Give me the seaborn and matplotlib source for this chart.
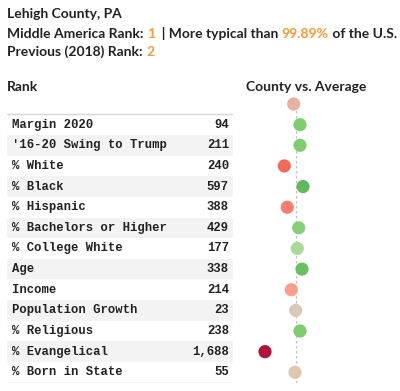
import matplotlib
matplotlib.use("Agg")
from matplotlib import pyplot as plt
import numpy as np
import pandas as pd
import seaborn as sns

# rows of the table (first row is the header dot with no label)
labels = ["", "Margin 2020", "'16-20 Swing to Trump", "% White", "% Black", "% Hispanic",
          "% Bachelors or Higher", "% College White", "Age", "Income",
          "Population Growth", "% Religious", "% Evangelical", "% Born in State"]
ranks = ["", "94", "211", "240", "597", "388", "429", "177", "338", "214", "23", "238", "1,688", "55"]
# county vs. average (relative deviation)
deviation = [-0.2, 0.43, 0.43, -1.14, 0.73, -0.84, 0.3, 0.16, 0.63, -0.44, 0.0, 0.43, -3.07, -0.07]
dot_colors = ["#e8b2a2", "#80cc71", "#80cc71", "#f06a59", "#62b95c", "#f47f6f", "#86d077",
              "#a8d99a", "#69c061", "#fa9e8e", "#d5ccb8", "#7ecc6f", "#b01238", "#e0c6b1"]

county = "Lehigh County, PA"
ma_rank = "1"
typical_pct = "99.89%"
prev_rank = "2"

orange = "#f29a38"
dark = "#222222"

sns.set_theme(style="white")
plt.rcParams['font.family'] = ['Lato', 'DejaVu Sans']

W, H = 400, 391
fig = plt.figure(figsize=(W / 100, H / 100), dpi=100)

def px(x0, y0, x1, y1):
    return [x0 / W, 1 - y1 / H, (x1 - x0) / W, (y1 - y0) / H]

df = pd.DataFrame({"label": labels, "rank": ranks, "dev": deviation, "row": range(len(labels))})
n = len(df)
top, bottom = 93.7, 382.6

# --- table ---
tab = fig.add_axes(px(7, top, 233, bottom))
tab.set_xlim(0, 1)
tab.set_ylim(n - 0.5, -0.5)
tab.axis("off")
for i in range(2, n, 2):
    tab.axhspan(i - 0.5, i + 0.5, color="#f3f3f3", lw=0)
tab.axhline(0.5, color="#d6d6d6", lw=1)
tab.axhline(n - 0.5, color="#d6d6d6", lw=1)
for _, r in df.iterrows():
    if r["label"] == "":
        continue
    tab.text(0.022, r["row"], r["label"], va="center", ha="left", family="Liberation Mono",
             weight="bold", fontsize=8.8, color=dark)
    tab.text(0.982, r["row"], r["rank"], va="center", ha="right", family="Liberation Mono",
             weight="bold", fontsize=8.8, color=dark)

# --- dot plot ---
dot = fig.add_axes(px(240, top, 360, bottom))
dot.axvline(0, ymin=0.0, ymax=0.98, color="#c0c0c0", lw=0.9, ls=(0, (2, 2)))
sns.scatterplot(data=df, x="dev", y="row", hue="label",
                palette=dict(zip(labels, dot_colors)), s=90, linewidth=0,
                legend=False, ax=dot, zorder=3)
dot.set_xlim(-5.57, 6.43)
dot.set_ylim(n - 0.5, -0.5)
dot.axis("off")

# --- titles ---
FS = 10.0

def line(parts, x, y):
    t = fig.text(x, y, parts[0][0], color=parts[0][1], fontsize=FS, weight="bold",
                 ha="left", va="baseline")
    for s, c in parts[1:]:
        t = fig.axes[0].annotate(s, xy=(1, 0), xycoords=t, color=c, fontsize=FS,
                                 weight="bold", ha="left", va="bottom",
                                 annotation_clip=False)
    return t

line([(county, dark)], 7 / W, 1 - 18.5 / H)
line([("Middle America Rank: ", dark), (ma_rank, orange), ("  | More typical than ", dark),
      (typical_pct, orange), (" of the U.S.", dark)], 7 / W, 1 - 37.5 / H)
line([("Previous (2018) Rank: ", dark), (prev_rank, orange)], 7 / W, 1 - 56 / H)

fig.text(7 / W, 1 - 91 / H, "Rank", fontsize=FS, weight="bold", color=dark)
fig.text(306 / W, 1 - 91 / H, "County vs. Average", fontsize=FS, weight="bold",
         color=dark, ha="center")

fig.savefig("out.png", dpi=100)
